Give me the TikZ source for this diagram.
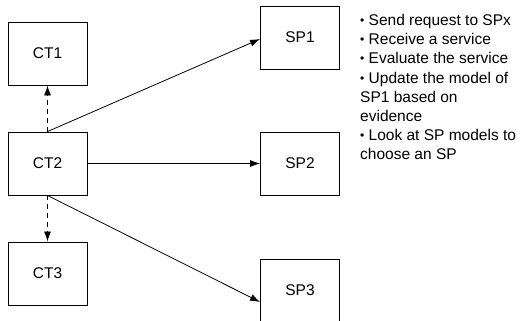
\documentclass[tikz,border=0pt]{standalone}
\usepackage{fontspec}
\setmainfont{Liberation Sans}
\usetikzlibrary{arrows.meta}

\newcommand{\dotmark}{\raisebox{1pt}{\fontsize{12}{19}\selectfont •}}

\tikzset{
  agent/.style={draw, line width=0.9pt, minimum width=79pt, minimum height=63pt,
    inner sep=0pt, font=\fontsize{15.5}{19}\selectfont},
  link/.style={line width=0.8pt, -{Latex[length=10pt,width=7pt]}},
  asklink/.style={link, dash pattern=on 5pt off 4pt}
}

\begin{document}
\begin{tikzpicture}[x=1pt,y=-1pt]
  \useasboundingbox (0,0) rectangle (522,321);
  % consumers
  \node[agent] (ct1) at (47.5, 53.5) {CT1};
  \node[agent] (ct2) at (47.5, 163.5) {CT2};
  \node[agent] (ct3) at (47.5, 273.5) {CT3};
  % providers
  \node[agent] (sp1) at (300, 37.5) {SP1};
  \node[agent] (sp2) at (300, 163.5) {SP2};
  \node[agent] (sp3) at (300, 290.5) {SP3};

  \begin{scope}[link]
  \draw (ct2.north) -- ([yshift=-1.5pt]sp1.west);
  \draw (ct2.east) -- (sp2.west);
  \draw (ct2.south) -- ([yshift=-11.5pt]sp3.west);
  \end{scope}
  \draw[asklink] (ct2.north) -- (ct1.south);
  \draw[asklink] (ct2.south) -- (ct3.north);

  % what CT2 does
  \node[anchor=north west, inner sep=0pt, align=left,
    font=\fontsize{15.5}{19.2}\selectfont] (notes) at (360, 14)
    {\dotmark{} Send request to SPx\\
     \dotmark{} Receive a service\\
     \dotmark{} Evaluate the service\\
     \dotmark{} Update the model of\\
     SP1 based on\\
     evidence\\
     \dotmark{} Look at SP models to\\
     choose an SP};
\end{tikzpicture}
\end{document}
